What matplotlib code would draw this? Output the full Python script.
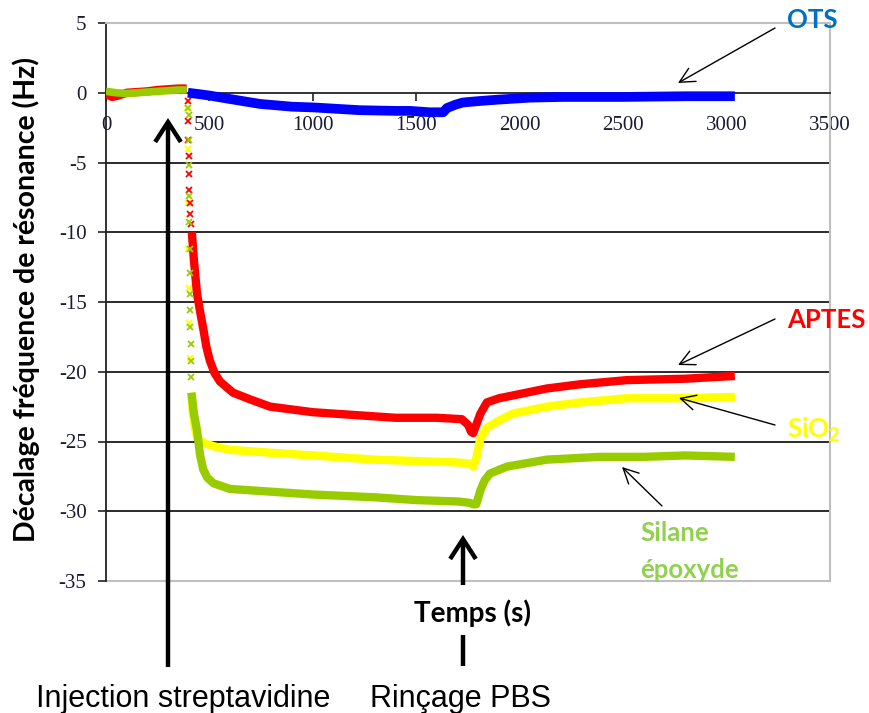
import matplotlib
matplotlib.use("Agg")
import matplotlib.pyplot as plt
from matplotlib.lines import Line2D

# ---------------- data ----------------
x_ticks = [0, 500, 1000, 1500, 2000, 2500, 3000, 3500]
y_ticks = [-35, -30, -25, -20, -15, -10, -5, 0, 5]
grid_levels = [-30, -25, -20, -15, -10, -5]

# OTS (blue)
ots_t = [396, 450, 500, 600, 744, 900, 1000, 1227, 1400, 1470, 1565, 1630, 1648,
         1690, 1725, 1800, 1890, 2050, 2210, 2500, 2800, 3040]
ots_v = [0.0, -0.1, -0.2, -0.45, -0.8, -1.0, -1.05, -1.25, -1.3, -1.3, -1.4, -1.4, -1.1,
         -0.85, -0.7, -0.6, -0.5, -0.35, -0.3, -0.3, -0.25, -0.25]

# APTES (red)
aptes_pre_t = [0, 30, 60, 100, 150, 200, 250, 300, 350, 390]
aptes_pre_v = [-0.1, -0.3, -0.2, 0.0, 0.05, 0.1, 0.2, 0.25, 0.3, 0.3]
aptes_drop_t = [394, 396, 398, 399, 401, 403, 405, 407, 410]
aptes_drop_v = [-0.6, -2.0, -3.4, -4.5, -5.8, -7.0, -7.9, -8.7, -9.4]
aptes_t = [415, 425, 440, 455, 470, 485, 502, 525, 551, 614, 700, 793, 1000, 1200, 1400,
           1600, 1720, 1750, 1765, 1775, 1790, 1810, 1841, 1900, 1967, 2131, 2291, 2518,
           2800, 3040]
aptes_v = [-10.0, -12.0, -14.4, -15.7, -16.9, -18.2, -19.2, -20.1, -20.7, -21.5, -22.0,
           -22.5, -22.9, -23.1, -23.3, -23.3, -23.4, -23.8, -24.3, -24.4, -23.8, -23.0,
           -22.2, -21.9, -21.7, -21.2, -20.9, -20.6, -20.5, -20.3]

# SiO2 (yellow)
sio2_drop_t = [392, 394, 396, 398, 400, 402, 404]
sio2_drop_v = [-1.1, -4.0, -7.9, -11.2, -14.0, -16.5, -19.0]
sio2_t = [412, 420, 430, 440, 460, 490, 536, 600, 793, 1000, 1300, 1500, 1700, 1760,
          1775, 1790, 1808, 1841, 1900, 1967, 2131, 2291, 2518, 2800, 3040]
sio2_v = [-21.5, -23.0, -24.0, -24.7, -25.0, -25.2, -25.4, -25.6, -25.8, -26.0, -26.3,
          -26.4, -26.5, -26.6, -26.8, -26.2, -24.9, -24.0, -23.5, -23.0, -22.5, -22.2,
          -21.9, -21.9, -21.8]

# Silane epoxyde (green)
epox_pre_t = [0, 50, 100, 150, 200, 250, 300, 350, 390]
epox_pre_v = [0.1, 0.0, -0.05, 0.0, 0.05, 0.1, 0.15, 0.2, 0.2]
epox_drop_t = [398, 399, 400, 401, 402, 403, 404, 405, 406, 407, 408, 409, 410, 411]
epox_drop_v = [-1.1, -1.6, -3.4, -5.2, -7.4, -9.3, -11.2, -12.9, -14.4, -15.6, -16.8,
               -18.0, -19.2, -20.4]
epox_t = [413, 425, 440, 455, 470, 490, 520, 560, 600, 800, 1000, 1300, 1500, 1700, 1760,
          1775, 1790, 1810, 1830, 1856, 1938, 2131, 2388, 2600, 2800, 3040]
epox_v = [-21.5, -23.0, -24.2, -26.0, -27.0, -27.6, -28.0, -28.2, -28.4, -28.6, -28.8,
          -29.0, -29.2, -29.3, -29.4, -29.5, -29.5, -28.5, -27.8, -27.3, -26.8, -26.3,
          -26.1, -26.1, -26.0, -26.1]

# ---------------- figure ----------------
W, H = 870, 713
fig = plt.figure(figsize=(W / 100, H / 100), dpi=100)
ax = fig.add_axes([106 / W, 1 - 581 / H, (830 - 106) / W, (581 - 23) / H])

RED, YEL, GRN, BLU = "#FF0000", "#FFFF00", "#99CC00", "#0000FF"
GRAY = "#BFBFBF"

for lv in grid_levels:
    ax.axhline(lv, color="#1a1a1a", lw=1.3, zorder=1)
ax.axhline(-35, color=GRAY, lw=1.5, zorder=1, clip_on=False)

lw = 6.0
ax.plot(ots_t, ots_v, color=BLU, lw=7, solid_capstyle="butt", zorder=3)
ax.plot(sio2_t, sio2_v, color=YEL, lw=lw, solid_capstyle="butt", zorder=3)
ax.plot(sio2_drop_t, sio2_drop_v, ls="none", marker="x", ms=4, mew=1.3, color=YEL, zorder=3)
ax.plot(aptes_pre_t, aptes_pre_v, color=RED, lw=lw, solid_capstyle="butt", zorder=4)
ax.plot(aptes_t, aptes_v, color=RED, lw=lw, solid_capstyle="butt", zorder=4)
ax.plot(aptes_drop_t, aptes_drop_v, ls="none", marker="x", ms=4, mew=1.3, color=RED, zorder=4)
ax.plot(epox_pre_t, epox_pre_v, color=GRN, lw=5.5, solid_capstyle="butt", zorder=5)
ax.plot(epox_t, epox_v, color=GRN, lw=lw, solid_capstyle="butt", zorder=5)
ax.plot(epox_drop_t, epox_drop_v, ls="none", marker="x", ms=4, mew=1.3, color=GRN, zorder=5)

ax.set_xlim(0, 3500)
ax.set_ylim(-35, 5)
ax.set_xticks(x_ticks)
ax.set_xticklabels([str(v) for v in x_ticks])
ax.set_yticks(y_ticks)
ax.set_yticklabels([str(v) for v in y_ticks])

ax.spines["bottom"].set_position(("data", 0))
ax.spines["bottom"].set_color("#222222")
ax.spines["bottom"].set_linewidth(1.3)
ax.spines["left"].set_color("#222222")
ax.spines["left"].set_linewidth(1.3)
ax.spines["top"].set_color(GRAY)
ax.spines["top"].set_linewidth(1.5)
ax.spines["right"].set_color(GRAY)
ax.spines["right"].set_linewidth(1.5)

ax.tick_params(axis="x", direction="out", length=6, width=1.2, pad=11, colors="#222222",
               labelcolor="#1a1a33", labelsize=15)
ax.tick_params(axis="y", direction="out", length=6, width=1.2, pad=8, colors="#222222",
               labelcolor="#1a1a33", labelsize=15)
for lab in ax.get_xticklabels() + ax.get_yticklabels():
    lab.set_fontfamily("Liberation Serif")

# ---------------- text & arrows (figure pixels, top origin) ----------------
def fy(y):
    return H - y

fig.text(26 / W, fy(300) / H, "Décalage fréquence de résonance (Hz)", rotation=90,
         ha="center", va="center", family="Lato", weight="bold", size=20.5)

bold = dict(family="Lato", weight="bold", size=18.5)
fig.text(787 / W, fy(20) / H, "OTS", color="#0070C0", ha="left", va="center", **bold)
fig.text(787 / W, fy(320) / H, "APTES", color="#FF0000", ha="left", va="center", **bold)
fig.text(787 / W, fy(430) / H, r"SiO$_\mathregular{2}$", color="#FFFF00", ha="left",
         va="center", **bold)
fig.text(640 / W, fy(533) / H, "Silane", color="#92D050", ha="left", va="center", **bold)
fig.text(640 / W, fy(570) / H, "époxyde", color="#92D050", ha="left", va="center", **bold)

def thin_arrow(x0, y0, x1, y1):
    fig.add_artist(matplotlib.patches.FancyArrowPatch(
        (x0, fy(y0)), (x1, fy(y1)), transform=None,
        arrowstyle="->,head_length=0.9,head_width=0.45", mutation_scale=12,
        color="black", lw=1.0, shrinkA=0, shrinkB=0))

thin_arrow(775, 28, 678, 83)
thin_arrow(775, 319, 678, 365)
thin_arrow(775, 425, 679, 398)
thin_arrow(662, 506, 622, 467)

def thick_arrow(x, y0, y1):
    fig.add_artist(matplotlib.patches.FancyArrowPatch(
        (x, fy(y0)), (x, fy(y1)), transform=None,
        arrowstyle="->,head_length=0.65,head_width=0.42", mutation_scale=22,
        color="black", lw=3.2, shrinkA=0, shrinkB=0, joinstyle="miter", capstyle="butt"))

thick_arrow(168, 667, 118)
thick_arrow(463, 585, 535)
fig.add_artist(Line2D([463, 463], [fy(635), fy(666)], transform=None, color="black", lw=3.2,
                      solid_capstyle="butt"))

fig.text(472 / W, fy(613) / H, "Temps (s)", ha="center", va="center", family="Lato",
         weight="bold", size=20)

fig.text(36 / W, fy(707) / H, "Injection streptavidine", ha="left", va="baseline",
         family="Liberation Sans", size=22)
fig.text(370 / W, fy(707) / H, "Rinçage PBS", ha="left", va="baseline",
         family="Liberation Sans", size=22)

fig.savefig("out.png", dpi=100)
